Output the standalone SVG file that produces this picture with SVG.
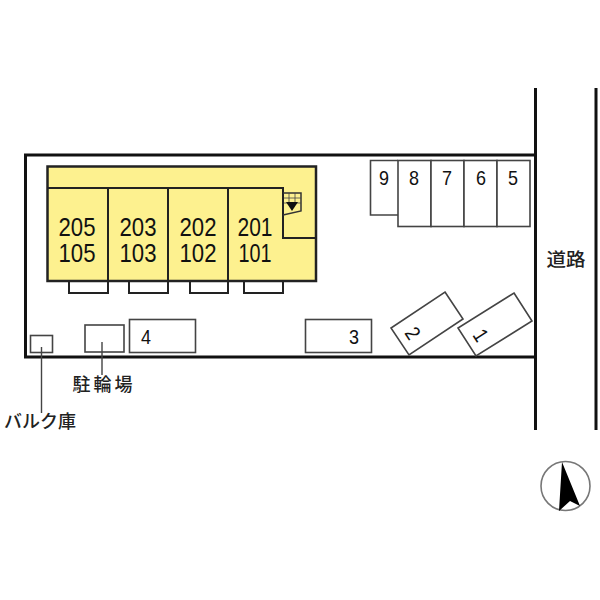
<svg xmlns="http://www.w3.org/2000/svg" width="600" height="600" viewBox="0 0 600 600">
<style>
.b{fill:none;stroke:#111;stroke-width:3}
.m{fill:#fdf18f;stroke:#222;stroke-width:2.5}
.d{fill:none;stroke:#222;stroke-width:2}
.p{fill:#fff;stroke:#444;stroke-width:1.6}
.t{font-family:"Liberation Sans",Arial,sans-serif;fill:#111;text-anchor:middle}
.u{font-size:26px}
.n{font-size:21px}
.j{font-family:"Noto Sans CJK JP","Liberation Sans",sans-serif;font-size:18px;font-weight:500;fill:#222;text-anchor:middle}
</style>
<rect width="600" height="600" fill="#fff"/>
<g id="site"><path class="b" d="M535.5 155H25.5V357H535.5"/></g>
<g id="road">
<path class="b" d="M535.5 88V430M596 88V430"/>
<text class="j" x="566" y="266" textLength="39" lengthAdjust="spacingAndGlyphs">道路</text>
</g>
<g id="building">
<rect class="m" x="47.5" y="166.5" width="268.5" height="114.5"/>
<path class="d" d="M48 188H283V238H316M108 188V281M168 188V281M228 188V281"/>
</g>
<g id="stairs">
<path d="M283 193H301V211L283 215" fill="none" stroke="#333" stroke-width="1.5"/>
<path d="M284 198H301M284 203H301M289 193V203M295 193V203" fill="none" stroke="#444" stroke-width="0.8"/>
<path d="M286 202H298L292 211Z" fill="#111"/>
</g>
<g id="balconies">
<path class="d" d="M69 281V293H108V281M129 281V293H168V281M190 281V293H228V281M244 281V293H283V281"/>
</g>
<g id="units">
<g id="unit-205"><text class="t u" x="77" y="236" textLength="37" lengthAdjust="spacingAndGlyphs">205</text><text class="t u" x="77" y="262" textLength="37" lengthAdjust="spacingAndGlyphs">105</text></g>
<g id="unit-203"><text class="t u" x="138" y="236" textLength="37" lengthAdjust="spacingAndGlyphs">203</text><text class="t u" x="138" y="262" textLength="37" lengthAdjust="spacingAndGlyphs">103</text></g>
<g id="unit-202"><text class="t u" x="198" y="236" textLength="37" lengthAdjust="spacingAndGlyphs">202</text><text class="t u" x="198" y="262" textLength="37" lengthAdjust="spacingAndGlyphs">102</text></g>
<g id="unit-201"><text class="t u" x="255" y="236" textLength="35" lengthAdjust="spacingAndGlyphs">201</text><text class="t u" x="255" y="262" textLength="33" lengthAdjust="spacingAndGlyphs">101</text></g>
</g>
<g id="parking">
<g id="p9"><path class="p" d="M398 215H370.500V160.500H398"/><text class="t n" x="384" y="185" textLength="10" lengthAdjust="spacingAndGlyphs">9</text></g>
<g id="p8"><rect class="p" x="398" y="160.500" width="33" height="66"/><text class="t n" x="414" y="185" textLength="10" lengthAdjust="spacingAndGlyphs">8</text></g>
<g id="p7"><rect class="p" x="431" y="160.500" width="33" height="66"/><text class="t n" x="447" y="185" textLength="10" lengthAdjust="spacingAndGlyphs">7</text></g>
<g id="p6"><rect class="p" x="464" y="160.500" width="33" height="66"/><text class="t n" x="481" y="185" textLength="10" lengthAdjust="spacingAndGlyphs">6</text></g>
<g id="p5"><rect class="p" x="497" y="160.500" width="33" height="66"/><text class="t n" x="513" y="185" textLength="10" lengthAdjust="spacingAndGlyphs">5</text></g>
<g id="p4"><rect class="p" x="129.500" y="319.500" width="66" height="33"/><text class="t n" x="146" y="344" textLength="10" lengthAdjust="spacingAndGlyphs">4</text></g>
<g id="p3"><rect class="p" x="305.500" y="319.500" width="66" height="33"/><text class="t n" x="354" y="344" textLength="10" lengthAdjust="spacingAndGlyphs">3</text></g>
<g id="p2"><path class="p" d="M445 292L463 319L409 355L391 328Z"/><text class="t n" x="0" y="0" textLength="10" lengthAdjust="spacingAndGlyphs" transform="translate(413 333) rotate(57) translate(0 7.500)">2</text></g>
<g id="p1"><path class="p" d="M514 293L532 321L476 356L458 328Z"/><text class="t n" x="0" y="0" textLength="10" lengthAdjust="spacingAndGlyphs" transform="translate(481 335) rotate(57) translate(0 7.500)">1</text></g>
</g>
<g id="bike-shed"><rect class="p" x="85" y="325" width="39" height="27"/><text class="j" x="102.500" y="391" textLength="60" lengthAdjust="spacing">駐輪場</text></g>
<g id="bulk-store"><rect class="p" x="30.500" y="335.500" width="22" height="17"/><text class="j" x="40" y="428" textLength="72" lengthAdjust="spacing">バルク庫</text></g>
<g id="connectors"><path d="M41.500 347V413M102 342V375" fill="none" stroke="#444" stroke-width="1.4"/></g>
<g id="compass">
<circle cx="565.500" cy="486" r="24.500" fill="#fff" stroke="#777" stroke-width="1.6"/>
<path d="M562 462L580 506L570 501L559 511Z" fill="#000"/>
</g>
</svg>
